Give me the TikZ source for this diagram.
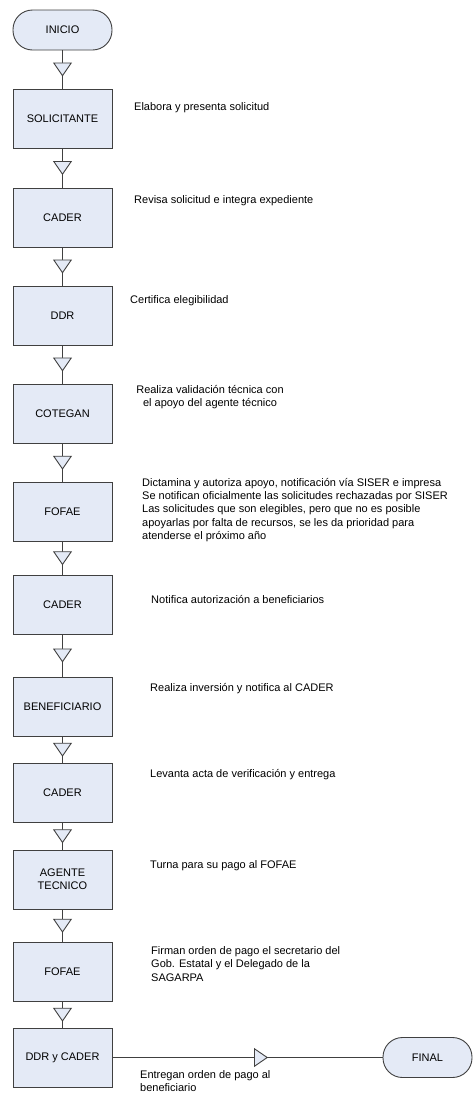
\documentclass[tikz,border=0pt]{standalone}
\usepackage{fontspec}
\setmainfont{Liberation Sans}
\usetikzlibrary{arrows.meta,decorations.markings}
\definecolor{boxfill}{RGB}{228,234,246}
\definecolor{edge}{RGB}{64,64,64}
\tikzset{flow/.style={color=edge, line width=0.9pt, postaction={decorate},
    decoration={markings, mark=at position #1 with {\arrow[xshift=7pt]{Triangle[width=19pt,length=14pt,fill=boxfill,color=edge]}}}},
  flow/.default=0.5}
\begin{document}
\begin{tikzpicture}[x=1pt,y=-1pt]
    \tikzstyle{every node}+=[inner sep=0pt, font=\fontsize{11}{13.3}\selectfont]
    \tikzstyle{stepbox}=[draw=edge, fill=boxfill, line width=0.9pt, minimum width=99pt, minimum height=59pt, align=center]
    \tikzstyle{endbox}=[draw=edge, fill=boxfill, line width=0.9pt, minimum height=40pt, rounded corners=19.5pt]
    \tikzstyle{note}=[anchor=base west]
    \tikzstyle{longnote}=[anchor=north west, align=left]
    \useasboundingbox (0,0) rectangle (473,1093);
    \node [endbox, minimum width=99pt] (inicio) at (62.5,30) {INICIO};
    \node [stepbox] (sol) at (62.5,118.5) {SOLICITANTE};
    \node [stepbox] (cader1) at (62.5,217.5) {CADER};
    \node [stepbox] (ddr) at (62.5,315.5) {DDR};
    \node [stepbox] (cotegan) at (62.5,413.5) {COTEGAN};
    \node [stepbox] (fofae1) at (62.5,512) {FOFAE};
    \node [stepbox] (cader2) at (62.5,604.5) {CADER};
    \node [stepbox] (benef) at (62.5,706.5) {BENEFICIARIO};
    \node [stepbox] (cader3) at (62.5,793) {CADER};
    \node [stepbox] (agente) at (62.5,879.5) {AGENTE\\TECNICO};
    \node [stepbox] (fofae2) at (62.5,972) {FOFAE};
    \node [stepbox] (ddrcader) at (62.5,1057.5) {DDR y CADER};
    \node [endbox, minimum width=89pt] (final) at (427.5,1057.5) {FINAL};
    \draw [flow] (inicio) -- (sol);
    \draw [flow] (sol) -- (cader1);
    \draw [flow] (cader1) -- (ddr);
    \draw [flow] (ddr) -- (cotegan);
    \draw [flow] (cotegan) -- (fofae1);
    \draw [flow] (fofae1) -- (cader2);
    \draw [flow] (cader2) -- (benef);
    \draw [flow] (benef) -- (cader3);
    \draw [flow] (cader3) -- (agente);
    \draw [flow] (agente) -- (fofae2);
    \draw [flow] (fofae2) -- (ddrcader);
    \draw [flow=0.55] (ddrcader) -- (final);
    \node [note] (nsol) at (134,110.5) {Elabora y presenta solicitud};
    \node [note] (ncader1) at (134,203.5) {Revisa solicitud e integra expediente};
    \node [note] (nddr) at (130,303.5) {Certifica elegibilidad};
    \node [anchor=north, align=center] (ncotegan) at (210,385) {Realiza validación técnica con\\el apoyo del agente técnico};
    \node [longnote] (nfofae1) at (142,478) {Dictamina y autoriza apoyo, notificación vía SISER e impresa\\Se notifican oficialmente las solicitudes rechazadas por SISER\\Las solicitudes que son elegibles, pero que no es posible\\apoyarlas por falta de recursos, se les da prioridad para\\atenderse el próximo año};
    \node [note] (ncader2) at (151,603.5) {Notifica autorización a beneficiarios};
    \node [note] (nbenef) at (150,691.5) {Realiza inversión y notifica al CADER};
    \node [note] (ncader3) at (150,777.5) {Levanta acta de verificación y entrega};
    \node [note] (nagente) at (150,868.5) {Turna para su pago al FOFAE};
    \node [longnote] (nfofae2) at (151,946.5) {Firman orden de pago el secretario del\\Gob. Estatal y el Delegado de la\\SAGARPA};
    \node [longnote] (nddrcader) at (140,1070.5) {Entregan orden de pago al\\beneficiario};
\end{tikzpicture}
\end{document}
